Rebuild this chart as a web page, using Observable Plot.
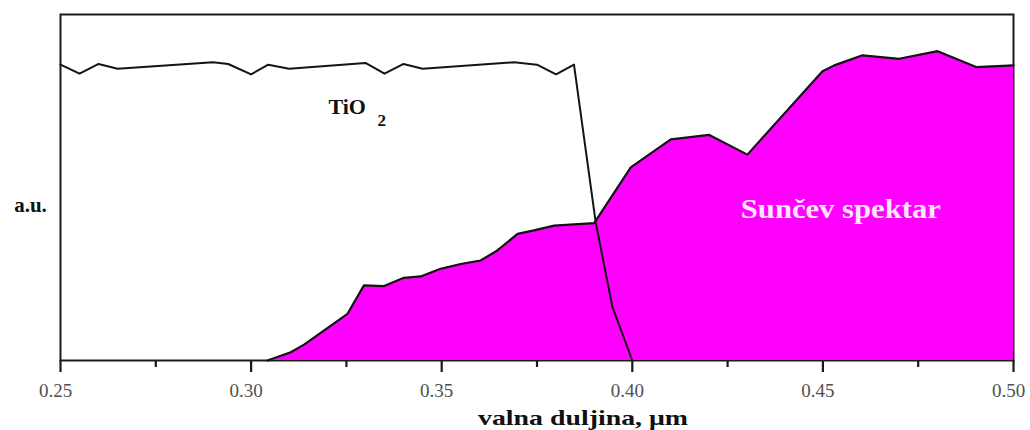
<!DOCTYPE html>
<html>
<head>
<meta charset="utf-8">
<script src="https://cdn.jsdelivr.net/npm/d3@7"></script>
<script src="https://cdn.jsdelivr.net/npm/@observablehq/plot@0.6"></script>
<style>
  html, body { margin: 0; padding: 0; background: #fff; }
</style>
</head>
<body>
<div id="chart"></div>
<script>
// TiO2 absorption (a.u.)
const tio2Wavelength = [0.25, 0.255, 0.26, 0.265, 0.29, 0.294, 0.30, 0.3045, 0.31, 0.33, 0.335, 0.34, 0.345, 0.369, 0.375, 0.38, 0.3847, 0.3904, 0.3948, 0.40];
const tio2Value      = [85.5, 82.9, 85.7, 84.3, 86.2, 85.7, 82.7, 85.5, 84.3, 86.0, 82.9, 85.7, 84.3, 86.2, 85.5, 82.7, 85.5, 39.9, 15.4, 0];

// Solar spectrum (a.u.)
const sunWavelength = [0.3043, 0.3104, 0.3139, 0.3253, 0.3296, 0.3349, 0.3401, 0.3445, 0.3497, 0.355, 0.3602, 0.3646, 0.3699, 0.3742, 0.3795, 0.39, 0.3996, 0.4101, 0.4202, 0.4302, 0.4499, 0.453, 0.4604, 0.47, 0.4801, 0.4902, 0.50];
const sunValue      = [0, 2.4, 4.6, 13.5, 21.7, 21.5, 23.9, 24.3, 26.5, 27.9, 28.9, 31.8, 36.6, 37.6, 39.0, 39.7, 55.8, 63.9, 65.2, 59.5, 83.6, 85.3, 88.2, 87.2, 89.4, 84.8, 85.3];

const majorTicks = [0.25, 0.30, 0.35, 0.40, 0.45, 0.50];
const minorTicks = [0.275, 0.325, 0.375, 0.425, 0.475];

const xLabel = "valna duljina, μm";
const yLabel = "a.u.";
const tio2Label = "TiO";
const tio2Sub = "2";
const sunLabel = "Sunčev spektar";
const labelPos = { tio2: [0.3203, 73.3], sun: [0.4547, 43.9] };

const tio2 = tio2Wavelength.map((x, i) => ({x, y: tio2Value[i]}));
const sun = sunWavelength.map((x, i) => ({x, y: sunValue[i]}));

const serif = "'Liberation Serif', 'Times New Roman', serif";

const chart = Plot.plot({
  width: 1030,
  height: 430,
  marginLeft: 60,
  marginRight: 17,
  marginTop: 14,
  marginBottom: 70,
  style: { fontFamily: serif, background: "#fff", overflow: "visible" },
  x: { domain: [0.25, 0.50] },
  y: { domain: [0, 100], axis: null },
  marks: [
    Plot.frame({ stroke: "#1a1a1a", strokeWidth: 2 }),
    Plot.axisX({ ticks: majorTicks, tickSize: 12, tickFormat: () => "", strokeWidth: 2.2, stroke: "#1a1a1a", label: null }),
    Plot.axisX({ ticks: minorTicks, tickSize: 7, tickFormat: () => "", strokeWidth: 2.2, stroke: "#1a1a1a", label: null }),
    Plot.text(majorTicks, { x: d => d, frameAnchor: "bottom", text: d3.format(".2f"), dx: -5, dy: 36, fontSize: 19, fill: "#505050", textAnchor: "middle", className: "ticklab" }),
    Plot.areaY(sun, { x: "x", y: "y", fill: "#ff00ff" }),
    Plot.lineY(sun, { x: "x", y: "y", stroke: "#141414", strokeWidth: 2.2 }),
    Plot.lineY(tio2, { x: "x", y: "y", stroke: "#141414", strokeWidth: 2 }),
    Plot.text([tio2Label], { x: () => labelPos.tio2[0], y: () => labelPos.tio2[1], text: d => d, textAnchor: "start", fontSize: 22, fontWeight: "bold", fill: "#111" }),
    Plot.text([tio2Sub], { x: () => labelPos.tio2[0], y: () => labelPos.tio2[1], text: d => d, textAnchor: "start", dx: 49, dy: 14, fontSize: 17, fontWeight: "bold", fill: "#111" }),
    Plot.text([sunLabel], { x: () => labelPos.sun[0], y: () => labelPos.sun[1], text: d => d, fontSize: 28, fontWeight: "bold", fill: "#fce6fc", className: "sunlab" }),
    Plot.text([yLabel], { frameAnchor: "left", text: d => d, textAnchor: "middle", dx: -30, dy: 18, fontSize: 21, fontWeight: "bold", fill: "#111" }),
    Plot.text([xLabel], { frameAnchor: "bottom", text: d => d, textAnchor: "middle", dx: 46, dy: 64, fontSize: 22, fontWeight: "bold", fill: "#111", className: "xlab" })
  ]
});
document.getElementById("chart").appendChild(chart);
// slight horizontal stretch of the original raster
d3.select(chart).selectAll(".xlab text").attr("textLength", 210).attr("lengthAdjust", "spacingAndGlyphs");
d3.select(chart).selectAll(".sunlab text").attr("textLength", 200).attr("lengthAdjust", "spacingAndGlyphs");
</script>
</body>
</html>
